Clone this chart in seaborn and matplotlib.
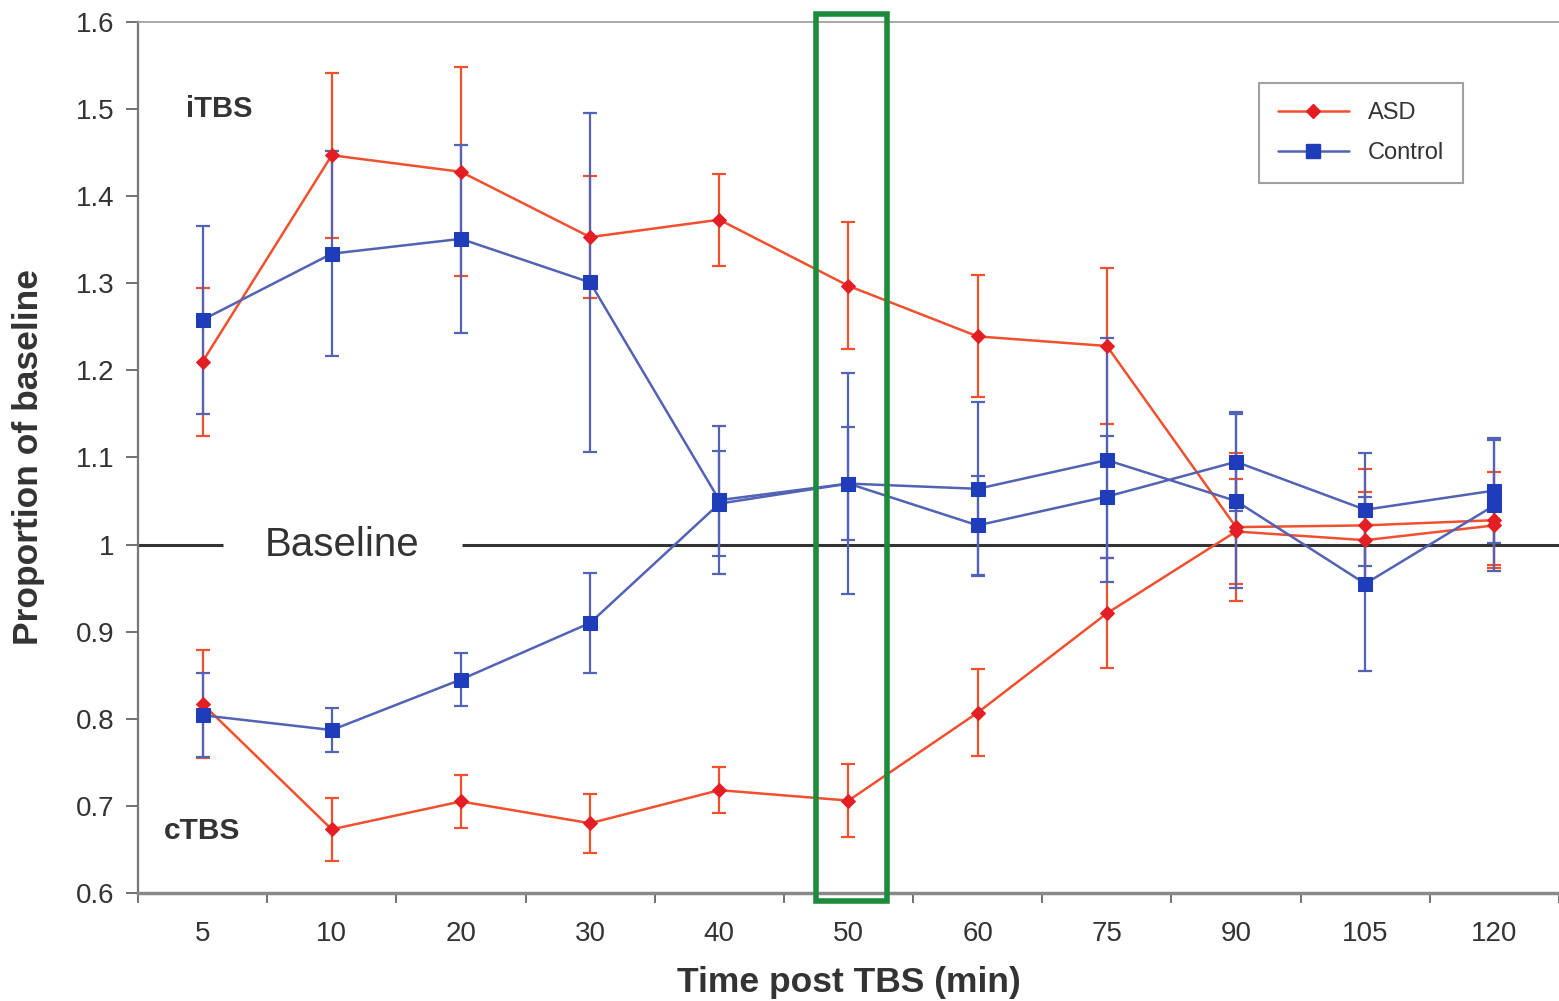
import numpy as np
import pandas as pd
import seaborn as sns
import matplotlib.pyplot as plt
from matplotlib.patches import Rectangle
from matplotlib.lines import Line2D

# Временные точки после TBS (мин)
time_labels = ['5', '10', '20', '30', '40', '50', '60', '75', '90', '105', '120']

# iTBS
itbs_asd = [1.21, 1.447, 1.428, 1.353, 1.373, 1.297, 1.239, 1.228, 1.02, 1.022, 1.028]
itbs_asd_err = [0.085, 0.095, 0.12, 0.07, 0.053, 0.073, 0.07, 0.09, 0.085, 0.065, 0.055]
itbs_ctrl = [1.258, 1.334, 1.351, 1.301, 1.051, 1.07, 1.064, 1.097, 1.05, 0.955, 1.045]
itbs_ctrl_err = [0.108, 0.118, 0.108, 0.195, 0.085, 0.127, 0.1, 0.14, 0.1, 0.1, 0.075]

# cTBS
ctbs_asd = [0.817, 0.673, 0.705, 0.68, 0.718, 0.706, 0.807, 0.921, 1.015, 1.005, 1.022]
ctbs_asd_err = [0.062, 0.036, 0.03, 0.034, 0.026, 0.042, 0.05, 0.063, 0.06, 0.055, 0.045]
ctbs_ctrl = [0.804, 0.787, 0.845, 0.91, 1.047, 1.07, 1.022, 1.055, 1.095, 1.04, 1.062]
ctbs_ctrl_err = [0.048, 0.025, 0.03, 0.057, 0.06, 0.065, 0.057, 0.07, 0.057, 0.065, 0.06]

red_line = '#F0502D'
red_mark = '#E31E24'
blue_line = '#5262B4'
blue_mark = '#1F3DB8'

sns.set_style("ticks")
plt.rcParams['font.family'] = ['Liberation Sans', 'DejaVu Sans']

fig = plt.figure(figsize=(15.59, 10.01), dpi=100)
ax = fig.add_axes([0.0885, 0.108, 0.9115, 0.870])

pos = np.arange(len(time_labels))

# Базовая линия с разрывом под подпись
ax.hlines(1.0, -0.5, 0.155, color='#333333', lw=2.2, zorder=1)
ax.hlines(1.0, 2.01, 10.5, color='#333333', lw=2.2, zorder=1)
ax.text(1.08, 1.0, 'Baseline', fontsize=29, color='#333333',
        ha='center', va='center')

series = [
    (itbs_asd, itbs_asd_err, red_line, red_mark, 'D', 7),
    (ctbs_asd, ctbs_asd_err, red_line, red_mark, 'D', 7),
    (itbs_ctrl, itbs_ctrl_err, blue_line, blue_mark, 's', 10),
    (ctbs_ctrl, ctbs_ctrl_err, blue_line, blue_mark, 's', 10),
]

for vals, errs, lc, mc, mk, ms in series:
    ax.errorbar(pos, vals, yerr=errs, fmt='none', ecolor=lc, elinewidth=1.6,
                capsize=5, capthick=1.6, zorder=2)
    df = pd.DataFrame({'pos': pos, 'val': vals})
    sns.lineplot(data=df, x='pos', y='val', ax=ax, color=lc, lw=1.8,
                 marker=mk, markersize=ms, markerfacecolor=mc,
                 markeredgecolor=mc, zorder=3)

# Зелёная рамка вокруг 50 мин
ax.add_patch(Rectangle((4.745, 0.591), 0.555, 1.018, fill=False,
                       edgecolor='#1E8A3C', lw=4, clip_on=False, zorder=5))

ax.text(-0.13, 1.5, 'iTBS', fontsize=21, fontweight='bold', color='#333333',
        ha='left', va='center')
ax.text(-0.3, 0.671, 'cTBS', fontsize=21.5, fontweight='bold', color='#333333',
        ha='left', va='center')

ax.set_xlim(-0.5, 10.5)
ax.set_ylim(0.6, 1.6)
ax.set_xticks(pos)
ax.set_xticklabels(time_labels)
ax.set_xticks(np.arange(-0.5, 10.6, 1.0), minor=True)
ax.tick_params(axis='x', which='major', length=0, labelsize=20, pad=20,
               labelcolor='#333333')
ax.tick_params(axis='x', which='minor', length=7, width=1.3, color='#666666')
ax.set_yticks(np.arange(0.6, 1.61, 0.1))
ax.set_yticklabels(['0.6', '0.7', '0.8', '0.9', '1', '1.1', '1.2', '1.3',
                    '1.4', '1.5', '1.6'])
ax.tick_params(axis='y', length=9, width=1.3, color='#666666', labelsize=20,
               pad=8, labelcolor='#333333')

ax.set_xlabel('Time post TBS (min)', fontsize=25.5, fontweight='bold',
              color='#333333', labelpad=14)
ax.set_ylabel('Proportion of baseline', fontsize=25.5, fontweight='bold',
              color='#333333', labelpad=22)

ax.spines['right'].set_visible(False)
ax.spines['top'].set_color('#999999')
ax.spines['top'].set_linewidth(1.2)
ax.spines['left'].set_color('#777777')
ax.spines['left'].set_linewidth(1.6)
ax.spines['bottom'].set_color('#888888')
ax.spines['bottom'].set_linewidth(2.5)

handles = [
    Line2D([], [], color=red_line, lw=1.8, marker='D', markersize=7,
           markerfacecolor=red_mark, markeredgecolor=red_mark),
    Line2D([], [], color=blue_line, lw=1.8, marker='s', markersize=10,
           markerfacecolor=blue_mark, markeredgecolor=blue_mark),
]
leg = ax.legend(handles, ['ASD', 'Control'], loc='upper right',
                bbox_to_anchor=(0.9405, 0.943), fontsize=17, frameon=True,
                fancybox=False, edgecolor='#888888', handlelength=3.0,
                borderpad=0.8, labelspacing=0.75)
leg.get_frame().set_linewidth(1.5)
for t in leg.get_texts():
    t.set_color('#333333')

fig.savefig('out.png', dpi=100)
